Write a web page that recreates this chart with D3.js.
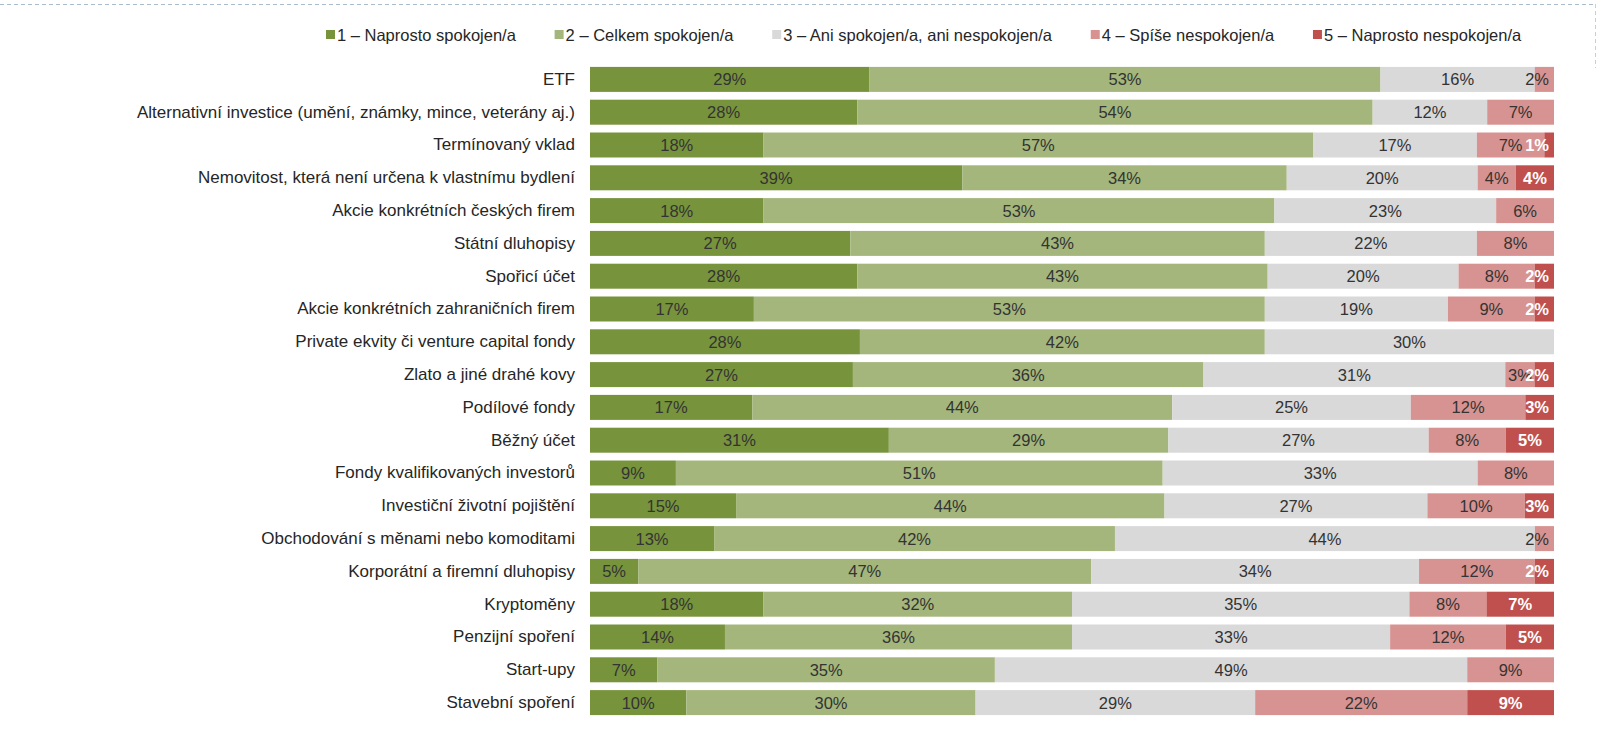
<!DOCTYPE html>
<html>
<head>
<meta charset="utf-8">
<script src="https://cdn.jsdelivr.net/npm/d3@7"></script>
<style>
  body { margin: 0; background: #fff; }
  svg { display: block; font-family: "Liberation Sans", Arial, sans-serif; }
</style>
</head>
<body>
<svg id="chart" width="1600" height="754"></svg>
<script>
// categories, top to bottom
var categories = [
  "ETF",
  "Alternativní investice (umění, známky, mince, veterány aj.)",
  "Termínovaný vklad",
  "Nemovitost, která není určena k vlastnímu bydlení",
  "Akcie konkrétních českých firem",
  "Státní dluhopisy",
  "Spořicí účet",
  "Akcie konkrétních zahraničních firem",
  "Private ekvity či venture capital fondy",
  "Zlato a jiné drahé kovy",
  "Podílové fondy",
  "Běžný účet",
  "Fondy kvalifikovaných investorů",
  "Investiční životní pojištění",
  "Obchodování s měnami nebo komoditami",
  "Korporátní a firemní dluhopisy",
  "Kryptoměny",
  "Penzijní spoření",
  "Start-upy",
  "Stavební spoření"
];

var legendLabels = [
  "1 – Naprosto spokojen/a",
  "2 – Celkem spokojen/a",
  "3 – Ani spokojen/a, ani nespokojen/a",
  "4 – Spíše nespokojen/a",
  "5 – Naprosto nespokojen/a"
];

// one array per answer, same order as categories (%)
var s1 = [29, 28, 18, 39, 18, 27, 28, 17, 28, 27, 17, 31, 9, 15, 13, 5, 18, 14, 7, 10];
var s2 = [53, 54, 57, 34, 53, 43, 43, 53, 42, 36, 44, 29, 51, 44, 42, 47, 32, 36, 35, 30];
var s3 = [16, 12, 17, 20, 23, 22, 20, 19, 30, 31, 25, 27, 33, 27, 44, 34, 35, 33, 49, 29];
var s4 = [2, 7, 7, 4, 6, 8, 8, 9, 0, 3, 12, 8, 8, 10, 2, 12, 8, 12, 9, 22];
var s5 = [0, 0, 1, 4, 0, 0, 2, 2, 0, 2, 3, 5, 0, 3, 0, 2, 7, 5, 0, 9];

var colors = ["#77933c", "#a4b67b", "#d9d9d9", "#d79391", "#c0504d"];

var keys = ["s1", "s2", "s3", "s4", "s5"];
var series = [s1, s2, s3, s4, s5];

var rows = categories.map(function(c, i) {
  var r = { cat: c };
  keys.forEach(function(k, j) { r[k] = series[j][i]; });
  return r;
});

var svg = d3.select("#chart");

// dashed frame line at the top
svg.append("line")
  .attr("x1", 0).attr("x2", 1595)
  .attr("y1", 4.5).attr("y2", 4.5)
  .attr("stroke", "#a9bccd")
  .attr("stroke-width", 1)
  .attr("stroke-dasharray", "4,3");
svg.append("line")
  .attr("x1", 1595.5).attr("x2", 1595.5)
  .attr("y1", 4).attr("y2", 68)
  .attr("stroke", "#c3d0db")
  .attr("stroke-width", 1)
  .attr("stroke-dasharray", "4,3");

var x = d3.scaleLinear().domain([0, 1]).range([590, 1554]);
var y = d3.scaleBand()
  .domain(categories)
  .range([63, 719])
  .paddingInner(0.238)
  .paddingOuter(0.119);

var stack = d3.stack().keys(keys).offset(d3.stackOffsetExpand);
var stacked = stack(rows);

var layers = svg.append("g").attr("class", "bars")
  .selectAll("g")
  .data(stacked)
  .join("g")
  .attr("fill", function(d, i) { return colors[i]; });

layers.selectAll("rect")
  .data(function(d) { return d; })
  .join("rect")
  .attr("x", function(d) { return x(d[0]); })
  .attr("y", function(d) { return y(d.data.cat); })
  .attr("width", function(d) { return x(d[1]) - x(d[0]); })
  .attr("height", y.bandwidth());

// value labels, kept inside the bar end
var labels = svg.append("g").attr("class", "values");
stacked.forEach(function(layer, li) {
  labels.selectAll(".v" + li)
    .data(layer.filter(function(d) { return d.data[layer.key] > 0; }))
    .join("text")
    .attr("class", "v" + li)
    .attr("y", function(d) { return y(d.data.cat) + y.bandwidth() / 2; })
    .attr("dy", "0.36em")
    .attr("text-anchor", "middle")
    .style("font-size", "16.5px")
    .style("font-weight", li == 4 ? "bold" : "normal")
    .style("fill", li == 4 ? "#ffffff" : "#333333")
    .text(function(d) { return d.data[layer.key] + "%"; })
    .attr("x", function(d) {
      var cx = (x(d[0]) + x(d[1])) / 2;
      var w = this.getComputedTextLength();
      return Math.min(cx, x(1) - 5 - w / 2);
    });
});

// category axis
var yAxis = d3.axisLeft(y).tickSize(0).tickPadding(15);
var ax = svg.append("g")
  .attr("transform", "translate(590,0)")
  .call(yAxis);
ax.select(".domain").remove();
ax.selectAll("text")
  .style("font-size", "17px")
  .style("font-family", "Liberation Sans, Arial, sans-serif")
  .style("fill", "#262626");

// legend
var legend = svg.append("g").attr("class", "legend");
var legendStart = 326, legendEnd = 1522, legendY = 35;
var items = legend.selectAll("g")
  .data(legendLabels)
  .join("g");
items.append("rect")
  .attr("width", 9).attr("height", 9)
  .attr("y", legendY - 5)
  .attr("fill", function(d, i) { return colors[i]; });
items.append("text")
  .attr("x", 11)
  .attr("y", legendY)
  .attr("dy", "0.35em")
  .style("font-size", "16.5px")
  .style("fill", "#262626")
  .text(function(d) { return d; });

var widths = [];
items.each(function() { widths.push(this.getBBox().width); });
var gap = (legendEnd - legendStart - d3.sum(widths)) / (legendLabels.length - 1);
var pos = legendStart;
items.attr("transform", function(d, i) {
  var t = "translate(" + pos + ",0)";
  pos += widths[i] + gap;
  return t;
});
</script>
</body>
</html>
